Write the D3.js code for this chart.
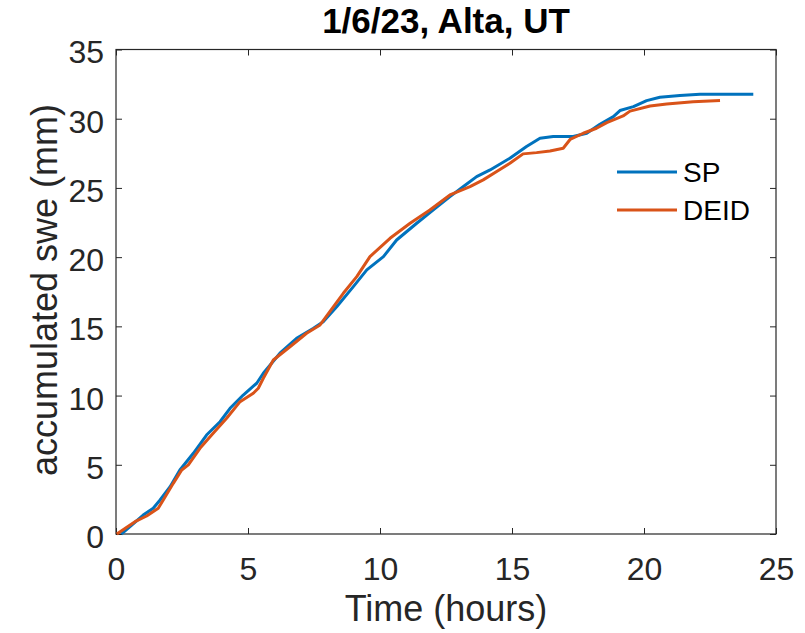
<!DOCTYPE html>
<html><head><meta charset="utf-8">
<script src="https://cdn.jsdelivr.net/npm/d3@7"></script>
<style>body{margin:0;background:#fff}svg{display:block}text{font-family:"Liberation Sans",Arial,sans-serif}</style>
</head><body><svg id="c" width="805" height="633"></svg>
<script>
const title = "1/6/23, Alta, UT";
const xLabel = "Time (hours)";
const yLabel = "accumulated swe (mm)";
const xTicks = [0,5,10,15,20,25];
const yTicks = [0,5,10,15,20,25,30,35];
const seriesNames = ["SP","DEID"];
const seriesColors = ["#0072BD","#D95319"];

const spT = [0.2,0.53,1.03,1.41,1.67,2.05,2.42,2.93,3.43,3.94,4.32,4.82,5.33,5.58,6.21,6.84,7.48,7.85,8.36,8.99,9.5,10.13,10.63,11.39,12.02,12.65,13.16,13.66,14.17,14.92,15.55,16.06,16.56,17.32,17.83,18.33,18.84,19.09,19.6,20.1,20.6,21.36,22.12,24.14];
const spV = [0,0.53,1.37,1.86,2.46,3.42,4.62,5.83,7.15,8.11,9.08,10.04,10.89,11.61,13.06,14.14,14.86,15.34,16.42,17.87,19.08,20.04,21.24,22.45,23.41,24.37,25.1,25.82,26.3,27.15,27.99,28.59,28.71,28.71,28.95,29.6,30.15,30.59,30.87,31.31,31.55,31.67,31.77,31.77];

const deT = [0.03,0.72,1.16,1.6,1.79,2.17,2.49,2.74,3.18,3.68,4.19,4.7,5.2,5.39,5.58,5.96,6.59,7.22,7.73,8.1,8.61,9.12,9.62,10.38,11.14,11.89,12.65,13.41,13.91,14.42,14.92,15.42,15.93,16.44,16.94,17.2,17.7,18.2,18.59,19.21,19.47,20.23,20.86,21.86,22.88];
const deV = [0,0.89,1.3,1.86,2.46,3.66,4.62,4.99,6.19,7.28,8.36,9.56,10.17,10.53,11.25,12.57,13.53,14.5,15.1,16.06,17.39,18.59,20.04,21.36,22.45,23.41,24.49,25.1,25.58,26.18,26.78,27.46,27.55,27.67,27.87,28.5,28.95,29.31,29.72,30.2,30.55,30.92,31.07,31.23,31.31];

const svg = d3.select("#c");
const L=116,R=776,T=49.5,B=534;
const x = d3.scaleLinear().domain([0,25]).range([L,R]);
const y = d3.scaleLinear().domain([0,35]).range([B,T]);
const axCol="#262626";

function styleAxis(g){
  g.select(".domain").remove();
  g.selectAll(".tick line").attr("stroke",axCol).attr("stroke-width",1);
  g.selectAll(".tick text").attr("fill",axCol).attr("font-size",32);
}
const gx = svg.append("g").attr("transform",`translate(0,${B})`)
  .call(d3.axisBottom(x).tickValues(xTicks).tickFormat(d3.format("d")).tickSizeInner(-6).tickPadding(23));
styleAxis(gx);
const gxt = svg.append("g").attr("transform",`translate(0,${T})`)
  .call(d3.axisTop(x).tickValues(xTicks).tickFormat("").tickSizeInner(-6));
styleAxis(gxt);
const gy = svg.append("g").attr("transform",`translate(${L},0)`)
  .call(d3.axisLeft(y).tickValues(yTicks).tickFormat(d3.format("d")).tickSizeInner(-6).tickPadding(12));
styleAxis(gy);
gy.selectAll(".tick text").attr("dy","0.42em");
const gyr = svg.append("g").attr("transform",`translate(${R},0)`)
  .call(d3.axisRight(y).tickValues(yTicks).tickFormat("").tickSizeInner(-6));
styleAxis(gyr);

svg.append("rect").attr("x",L).attr("y",T).attr("width",R-L).attr("height",B-T)
  .attr("fill","none").attr("stroke",axCol).attr("stroke-width",1.2);

const line = d3.line().x(d=>x(d[0])).y(d=>y(d[1]));
const data = [d3.zip(spT,spV), d3.zip(deT,deV)];
data.forEach((d,i)=>{
  svg.append("path").datum(d).attr("d",line).attr("fill","none")
    .attr("stroke",seriesColors[i]).attr("stroke-width",3).attr("stroke-linejoin","round");
});

// legend
seriesNames.forEach((n,i)=>{
  const yy = 172 + i*38;
  svg.append("line").attr("x1",617).attr("x2",677).attr("y1",yy).attr("y2",yy)
    .attr("stroke",seriesColors[i]).attr("stroke-width",3);
  svg.append("text").attr("x",683).attr("y",yy).attr("dy","0.36em")
    .attr("font-size",28).attr("fill","#000").text(n);
});

svg.append("text").attr("x",(L+R)/2).attr("y",33).attr("text-anchor","middle")
  .attr("font-size",35).attr("font-weight","bold").attr("fill","#000").text(title);
svg.append("text").attr("x",(L+R)/2).attr("y",621).attr("text-anchor","middle")
  .attr("font-size",36).attr("fill",axCol).text(xLabel);
svg.append("text").attr("transform",`translate(57,290) rotate(-90)`).attr("text-anchor","middle")
  .attr("font-size",36).attr("fill",axCol).text(yLabel);
</script></body></html>
